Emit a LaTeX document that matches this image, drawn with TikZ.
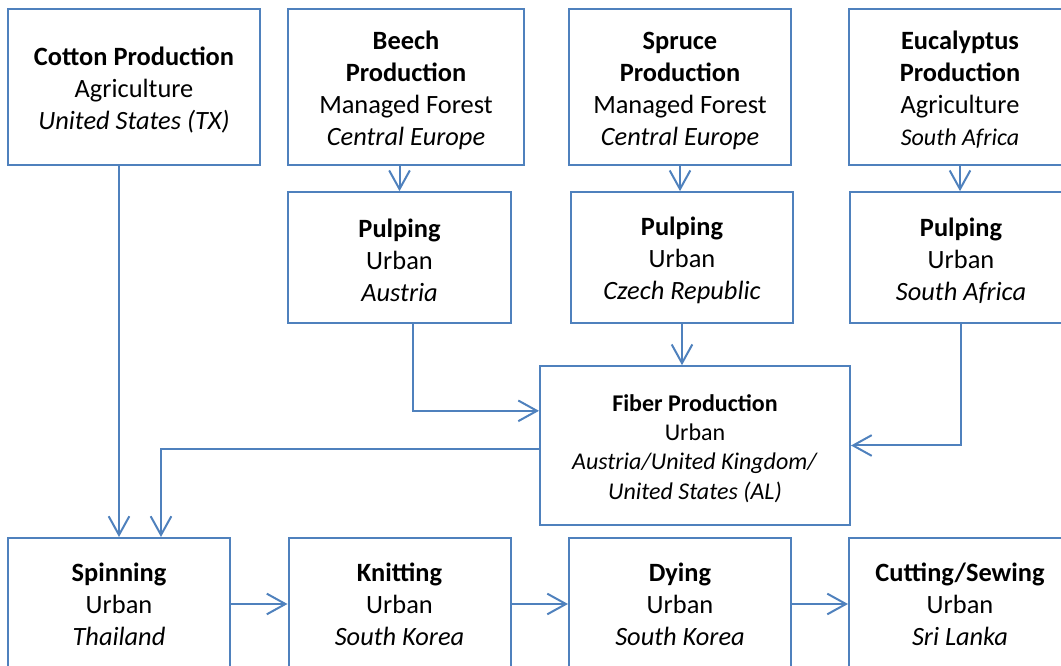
\documentclass[tikz,border=0pt]{standalone}
\usepackage{fontspec}
\setmainfont{Carlito}
\usetikzlibrary{arrows.meta}
\definecolor{boxblue}{HTML}{4F81BD}
% bold first line, with a strut that drops the text a little
\newcommand{\stagehead}[1]{\rule{0pt}{0.93em}\textbf{#1}}
\begin{document}
\begin{tikzpicture}[x=0.75pt, y=-0.75pt,
  stage/.style={draw=boxblue, line width=1.5pt, fill=white, align=center, inner sep=0pt,
    font=\fontsize{19.8}{24}\selectfont},
  flow/.style={draw=boxblue, line width=1.5pt, ->, >={Straight Barb[length=14pt, width=15.5pt]}}]

\clip (0,0) rectangle (1061,666);

\node [stage, minimum width=189pt, minimum height=117pt] (cotton) at (134,87)
  {\stagehead{Cotton Production}\\Agriculture\\\textit{United States (TX)}};
\node [stage, minimum width=177pt, minimum height=117pt] (beech) at (406,87)
  {\stagehead{Beech}\\\textbf{Production}\\Managed Forest\\\textit{Central Europe}};
\node [stage, minimum width=166.5pt, minimum height=117pt] (spruce) at (680,87)
  {\stagehead{Spruce}\\\textbf{Production}\\Managed Forest\\\textit{Central Europe}};
\node [stage, minimum width=166.5pt, minimum height=117pt] (euc) at (960,87)
  {\stagehead{Eucalyptus}\\\textbf{Production}\\Agriculture\\\textit{\fontsize{18}{24}\selectfont South Africa}};

\node [stage, minimum width=167pt, minimum height=98pt] (pulpA) at (399.5,257.5)
  {\stagehead{Pulping}\\Urban\\\textit{Austria}};
\node [stage, minimum width=167pt, minimum height=98pt] (pulpC) at (682,257.5)
  {\stagehead{Pulping}\\Urban\\\textit{Czech Republic}};
\node [stage, minimum width=167pt, minimum height=98pt] (pulpS) at (961,257.5)
  {\stagehead{Pulping}\\Urban\\\textit{South Africa}};

\node [stage, minimum width=232.5pt, minimum height=119pt, font=\fontsize{18}{22}\selectfont] (fiber) at (695,445.5)
  {\stagehead{Fiber Production}\\Urban\\\textit{Austria/United Kingdom/}\\\textit{United States (AL)}};

\node [stage, minimum width=166.5pt, minimum height=99pt] (spin) at (119,604)
  {\textbf{Spinning}\\Urban\\\textit{Thailand}};
\node [stage, minimum width=166.5pt, minimum height=99pt] (knit) at (399.5,604)
  {\textbf{Knitting}\\Urban\\\textit{South Korea}};
\node [stage, minimum width=166.5pt, minimum height=99pt] (dye) at (680,604)
  {\textbf{Dying}\\Urban\\\textit{South Korea}};
\node [stage, minimum width=166.5pt, minimum height=99pt] (cut) at (960,604)
  {\textbf{Cutting/Sewing}\\Urban\\\textit{Sri Lanka}};

% raw material to pulping
\draw [flow] (cotton.south -| spin.north) -- (spin.north);
\draw [flow] (beech.south -| pulpA.north) -- (pulpA.north);
\draw [flow] (spruce.south) -- (spruce.south |- pulpC.north);
\draw [flow] (euc.south) -- (euc.south |- pulpS.north);

% pulping to fiber
\draw [flow] ([xshift=10pt]pulpA.south) |- ([yshift=26pt]fiber.west);
\draw [flow] (pulpC.south) -- (pulpC.south |- fiber.north);
\draw [flow] (pulpS.south) |- (fiber.east);

% fiber to spinning
\draw [flow] ([yshift=-2.6pt]fiber.west) -| ([xshift=31.5pt]spin.north);

% garment chain
\draw [flow] (spin.east) -- (knit.west);
\draw [flow] (knit.east) -- (dye.west);
\draw [flow] (dye.east) -- (cut.west);
\end{tikzpicture}
\end{document}
